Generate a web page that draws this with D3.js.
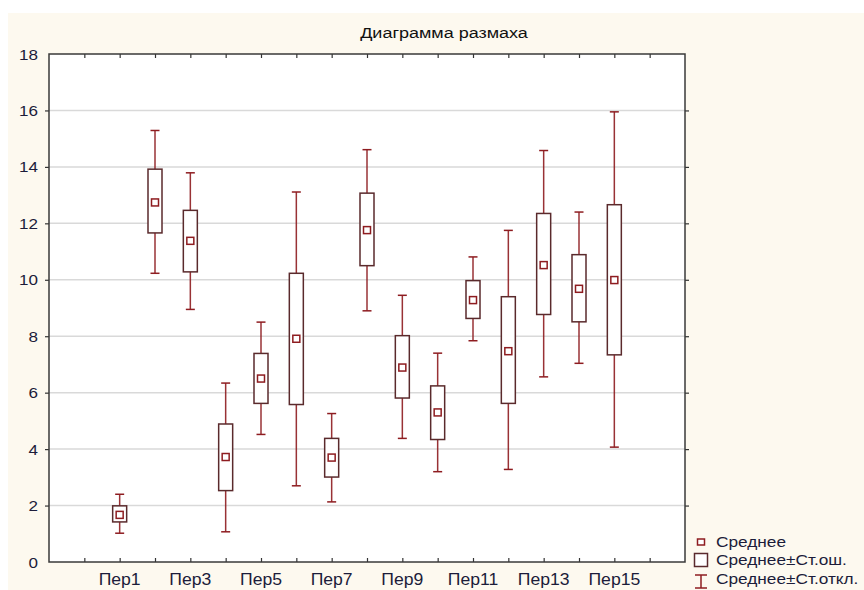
<!DOCTYPE html>
<html>
<head>
<meta charset="utf-8">
<script src="https://cdn.jsdelivr.net/npm/d3@7"></script>
<style>
  html, body { margin: 0; padding: 0; background: #ffffff; }
  svg { display: block; }
  text { font-family: "Liberation Sans", Arial, sans-serif; }
</style>
</head>
<body>
<svg id="chart" width="864" height="590"></svg>
<script>
const categories = ["Пер1","Пер2","Пер3","Пер4","Пер5","Пер6","Пер7","Пер8","Пер9","Пер10","Пер11","Пер12","Пер13","Пер14","Пер15"];
const means   = [1.67, 12.74, 11.38, 3.72, 6.50, 7.91, 3.70, 11.76, 6.89, 5.30, 9.28, 7.47, 10.52, 9.68, 9.99];
const seLow   = [1.42, 11.66, 10.28, 2.53, 5.62, 5.58, 3.01, 10.50, 5.81, 4.34, 8.63, 5.62, 8.77, 8.51, 7.34];
const seHigh  = [1.99, 13.92, 12.46, 4.89, 7.39, 10.23, 4.38, 13.07, 8.02, 6.24, 9.97, 9.40, 12.35, 10.89, 12.66];
const sdLow   = [1.02, 10.23, 8.95, 1.07, 4.52, 2.70, 2.13, 8.90, 4.38, 3.20, 7.84, 3.28, 6.56, 7.04, 4.07];
const sdHigh  = [2.40, 15.29, 13.79, 6.34, 8.50, 13.11, 5.26, 14.61, 9.45, 7.40, 10.81, 11.75, 14.58, 12.40, 15.95];
const yTicks  = [0, 2, 4, 6, 8, 10, 12, 14, 16, 18];
const legendLabels = ["Среднее", "Среднее±Ст.ош.", "Среднее±Ст.откл."];
const title = "Диаграмма размаха";

const svg = d3.select("#chart");
const W = 864, H = 590;
const L = 49, R = 685, T = 54, B = 562;
const textColor = "#1c1c3a";
const whiskerColor = "#8e1c20";
const boxColor = "#5a2a2c";

svg.append("rect").attr("x", 8).attr("y", 13).attr("width", W - 8).attr("height", H - 13).attr("fill", "#fdf9ef");
svg.append("rect").attr("x", L).attr("y", T).attr("width", R - L).attr("height", B - T).attr("fill", "#ffffff");

const x = d3.scaleLinear().domain([0, categories.length + 3]).range([L, R]);
const y = d3.scaleLinear().domain([0, 18]).range([B, T]);
const xPos = i => x(i + 2);

// gridlines
svg.append("g").selectAll("line").data(yTicks.filter(t => t > 0 && t < 18)).join("line")
  .attr("x1", L).attr("x2", R)
  .attr("y1", d => y(d)).attr("y2", d => y(d))
  .attr("stroke", "#d9d9d9").attr("stroke-width", 1.5);

// axes
const xTickVals = d3.range(1, categories.length + 3);
const inner = yTicks.filter(t => t > 0 && t < 18);
const gB = svg.append("g").attr("transform", `translate(0,${B})`)
  .call(d3.axisTop(x).tickValues(xTickVals).tickSize(4).tickSizeOuter(0).tickFormat(""));
const gT = svg.append("g").attr("transform", `translate(0,${T})`)
  .call(d3.axisBottom(x).tickValues(xTickVals).tickSize(4).tickSizeOuter(0).tickFormat(""));
const gL = svg.append("g").attr("transform", `translate(${L},0)`)
  .call(d3.axisLeft(y).tickValues(inner).tickSize(4).tickSizeOuter(0).tickFormat(""));
const gR = svg.append("g").attr("transform", `translate(${R},0)`)
  .call(d3.axisRight(y).tickValues(inner).tickSize(4).tickSizeOuter(0).tickFormat(""));
[gB, gT, gL, gR].forEach(g => {
  g.select(".domain").remove();
  g.selectAll(".tick line").attr("stroke", "#333333").attr("stroke-width", 1.2);
});

// frame
svg.append("rect").attr("x", L).attr("y", T).attr("width", R - L).attr("height", B - T)
  .attr("fill", "none").attr("stroke", "#3a3a3a").attr("stroke-width", 1.5);

// y labels
svg.append("g").selectAll("text").data(yTicks).join("text")
  .attr("transform", d => `translate(${L - 11},${y(d)}) scale(1.1,1)`)
  .attr("dy", "0.36em")
  .attr("text-anchor", "end").attr("font-size", 15.5).attr("fill", textColor)
  .text(d => d);

// x labels (every other category)
svg.append("g").selectAll("text").data(categories.map((c, i) => ({c, i})).filter(d => d.i % 2 === 0)).join("text")
  .attr("transform", d => `translate(${xPos(d.i)},585) scale(1.1,1)`)
  .attr("text-anchor", "middle").attr("font-size", 16).attr("fill", textColor)
  .text(d => d.c);

// title
svg.append("text").attr("transform", "translate(444,38) scale(1.2,1)").attr("text-anchor", "middle")
  .attr("font-size", 15).attr("fill", "#111111").text(title);

// marks
const boxW = 14, capW = 9, meanS = 7;
const g = svg.append("g");
const items = categories.map((c, i) => ({i}));
const grp = g.selectAll("g.item").data(items).join("g").attr("class", "item");
grp.append("line")
  .attr("x1", d => xPos(d.i)).attr("x2", d => xPos(d.i))
  .attr("y1", d => y(sdHigh[d.i])).attr("y2", d => y(sdLow[d.i]))
  .attr("stroke", whiskerColor).attr("stroke-width", 1.5).attr("opacity", 0.9);
grp.append("line")
  .attr("x1", d => xPos(d.i) - capW / 2).attr("x2", d => xPos(d.i) + capW / 2)
  .attr("y1", d => y(sdHigh[d.i])).attr("y2", d => y(sdHigh[d.i]))
  .attr("stroke", whiskerColor).attr("stroke-width", 1.5);
grp.append("line")
  .attr("x1", d => xPos(d.i) - capW / 2).attr("x2", d => xPos(d.i) + capW / 2)
  .attr("y1", d => y(sdLow[d.i])).attr("y2", d => y(sdLow[d.i]))
  .attr("stroke", whiskerColor).attr("stroke-width", 1.5);
grp.append("rect")
  .attr("x", d => xPos(d.i) - boxW / 2).attr("width", boxW)
  .attr("y", d => y(seHigh[d.i])).attr("height", d => y(seLow[d.i]) - y(seHigh[d.i]))
  .attr("fill", "#ffffff").attr("stroke", boxColor).attr("stroke-width", 1.5);
grp.append("rect")
  .attr("x", d => xPos(d.i) - meanS / 2).attr("width", meanS)
  .attr("y", d => y(means[d.i]) - meanS / 2).attr("height", meanS)
  .attr("fill", "#ffffff").attr("stroke", whiskerColor).attr("stroke-width", 1.5);

// legend
const lg = svg.append("g");
const lx = 701, ly = [542, 560, 579];
lg.append("rect").attr("x", lx - 3.5).attr("y", ly[0] - 3).attr("width", 7).attr("height", 6)
  .attr("fill", "#fff").attr("stroke", whiskerColor).attr("stroke-width", 1.5);
lg.append("rect").attr("x", lx - 6.5).attr("y", ly[1] - 6.5).attr("width", 13).attr("height", 13)
  .attr("fill", "#fff").attr("stroke", boxColor).attr("stroke-width", 1.5);
lg.append("line").attr("x1", lx).attr("x2", lx).attr("y1", ly[2] - 4).attr("y2", ly[2] + 9)
  .attr("stroke", whiskerColor).attr("stroke-width", 1.5);
lg.append("line").attr("x1", lx - 6).attr("x2", lx + 6).attr("y1", ly[2] - 4).attr("y2", ly[2] - 4)
  .attr("stroke", whiskerColor).attr("stroke-width", 1.5);
lg.append("line").attr("x1", lx - 6).attr("x2", lx + 6).attr("y1", ly[2] + 9).attr("y2", ly[2] + 9)
  .attr("stroke", whiskerColor).attr("stroke-width", 1.5);
lg.selectAll("text").data(legendLabels).join("text")
  .attr("transform", (d, i) => `translate(716,${ly[i]}) scale(1.15,1)`).attr("dy", "0.36em")
  .attr("font-size", 15).attr("fill", textColor).text(d => d);
</script>
</body>
</html>
